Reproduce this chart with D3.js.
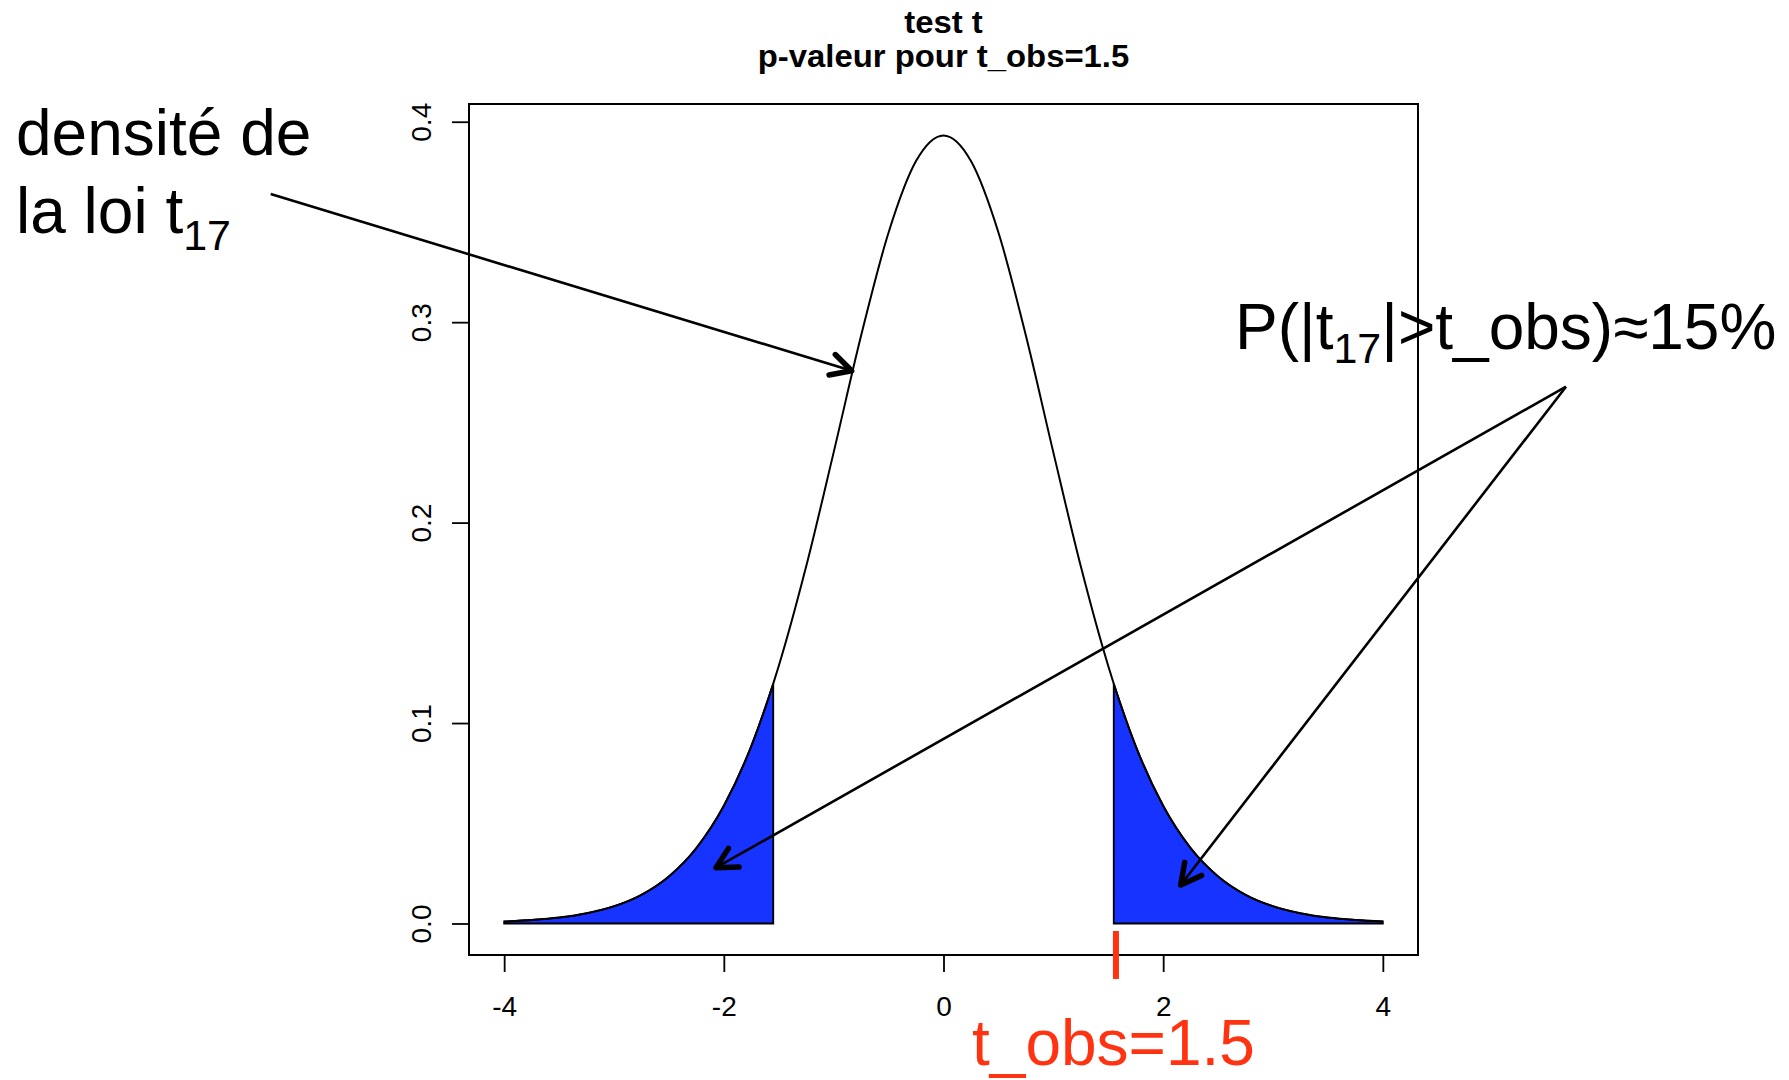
<!DOCTYPE html>
<html>
<head>
<meta charset="utf-8">
<script src="https://cdn.jsdelivr.net/npm/d3@7"></script>
<style>
  html, body { margin: 0; padding: 0; background: #fff; }
  svg { display: block; }
  text { font-family: "Liberation Sans", Arial, Helvetica, sans-serif; }
</style>
</head>
<body>
<svg id="chart" width="1789" height="1080"></svg>
<script>
// ---------------- DATA ----------------
const tValues = [-4, -3.75, -3.5, -3.25, -3, -2.75, -2.5, -2.25, -2, -1.75, -1.55, -1.5, -1.25, -1, -0.75, -0.5, -0.25,
                 0, 0.25, 0.5, 0.75, 1, 1.25, 1.5, 1.55, 1.75, 2, 2.25, 2.5, 2.75, 3, 3.25, 3.5, 3.75, 4];
const densityValues = [0.00100, 0.00173, 0.00297, 0.00508, 0.00859, 0.01433, 0.02349, 0.03764, 0.05870, 0.08853, 0.11964, 0.12844, 0.17818, 0.23503, 0.29329, 0.34472, 0.38035,
                 0.39312, 0.38035, 0.34472, 0.29329, 0.23503, 0.17818, 0.12844, 0.11964, 0.08853, 0.05870, 0.03764, 0.02349, 0.01433, 0.00859, 0.00508, 0.00297, 0.00173, 0.00100];
const tCritical = 1.55;          // edge of the shaded tails
const tObsMark = 1.57;           // red mark under the axis
const xTicks = [-4, -2, 0, 2, 4];
const xTickLabels = ["-4", "-2", "0", "2", "4"];
const yTicks = [0, 0.1, 0.2, 0.3, 0.4];
const yTickLabels = ["0.0", "0.1", "0.2", "0.3", "0.4"];
const titleLines = ["test t", "p-valeur pour t_obs=1.5"];
const xDomain = [-4.32, 4.32];
const yDomain = [-0.015725, 0.408845];

// ---------------- LAYOUT ----------------
const box = { left: 469, right: 1418, top: 104, bottom: 955 };
const svg = d3.select("#chart");

const x = d3.scaleLinear().domain(xDomain).range([box.left, box.right]);
const y = d3.scaleLinear().domain(yDomain).range([box.bottom, box.top]);

const pts = tValues.map((t, i) => ({ t, d: densityValues[i] }));

// shaded tails
const area = d3.area().x(p => x(p.t)).y0(y(0)).y1(p => y(p.d)).curve(d3.curveMonotoneX);
const leftTail = pts.filter(p => p.t <= -tCritical);
const rightTail = pts.filter(p => p.t >= tCritical);
[leftTail, rightTail].forEach(tail => {
  svg.append("path")
    .attr("d", area(tail))
    .attr("fill", "#1733ff")
    .attr("stroke", "#000")
    .attr("stroke-width", 1.8)
    .attr("stroke-linejoin", "miter");
});

// density curve
const line = d3.line().x(p => x(p.t)).y(p => y(p.d)).curve(d3.curveMonotoneX);
svg.append("path")
  .attr("d", line(pts))
  .attr("fill", "none")
  .attr("stroke", "#000")
  .attr("stroke-width", 2);

// box
svg.append("rect")
  .attr("x", box.left).attr("y", box.top)
  .attr("width", box.right - box.left).attr("height", box.bottom - box.top)
  .attr("fill", "none").attr("stroke", "#000").attr("stroke-width", 2);

// x axis
const xAxis = svg.append("g")
  .attr("transform", `translate(0,${box.bottom})`)
  .call(d3.axisBottom(x).tickValues(xTicks).tickFormat((d, i) => xTickLabels[i]).tickSize(17).tickSizeOuter(0));
xAxis.select(".domain").remove();
xAxis.selectAll("line").attr("stroke", "#000").attr("stroke-width", 1.8);
xAxis.selectAll("text")
  .attr("y", 0).attr("dy", 0)
  .attr("font-size", 28)
  .attr("fill", "#000")
  .attr("font-family", "Liberation Sans, Arial, sans-serif")
  .attr("transform", "translate(0,61)");

// y axis
const yAxis = svg.append("g")
  .attr("transform", `translate(${box.left},0)`)
  .call(d3.axisLeft(y).tickValues(yTicks).tickFormat((d, i) => yTickLabels[i]).tickSize(17).tickSizeOuter(0));
yAxis.select(".domain").remove();
yAxis.selectAll("line").attr("stroke", "#000").attr("stroke-width", 1.8);
yAxis.selectAll("text")
  .attr("x", 0).attr("y", 0).attr("dy", 0)
  .attr("text-anchor", "middle")
  .attr("font-size", 28)
  .attr("fill", "#000")
  .attr("font-family", "Liberation Sans, Arial, sans-serif")
  .attr("transform", "translate(-38,0) rotate(-90)");

// title
const cx = (box.left + box.right) / 2;
[33, 67].forEach((by, i) => {
  svg.append("text")
    .attr("transform", `translate(${cx},${by}) scale(1.06,1)`)
    .attr("text-anchor", "middle")
    .attr("font-size", 31)
    .attr("font-weight", "bold")
    .attr("fill", "#000")
    .text(titleLines[i]);
});

// red observed-t mark
svg.append("line")
  .attr("x1", x(tObsMark)).attr("x2", x(tObsMark))
  .attr("y1", 931).attr("y2", 979)
  .attr("stroke", "#ff3311").attr("stroke-width", 6);

// ---------------- ANNOTATIONS ----------------
function arrow(x1, y1, x2, y2) {
  svg.append("line").attr("x1", x1).attr("y1", y1).attr("x2", x2).attr("y2", y2)
    .attr("stroke", "#000").attr("stroke-width", 2.6);
  const ang = Math.atan2(y2 - y1, x2 - x1);
  const L = 23, a = Math.PI / 6.5;
  const p1 = [x2 - L * Math.cos(ang - a), y2 - L * Math.sin(ang - a)];
  const p2 = [x2 - L * Math.cos(ang + a), y2 - L * Math.sin(ang + a)];
  svg.append("path")
    .attr("d", `M${p1[0]},${p1[1]}L${x2},${y2}L${p2[0]},${p2[1]}`)
    .attr("fill", "none").attr("stroke", "#000").attr("stroke-width", 5.5)
    .attr("stroke-linecap", "round").attr("stroke-linejoin", "round");
}
arrow(270.7, 194, 851.7, 370.7);
arrow(1566, 386.7, 716, 867.7);
arrow(1566, 386.7, 1180.7, 885);

const annFont = 64;
svg.append("text").attr("x", 16).attr("y", 155).attr("font-size", annFont).attr("fill", "#000").text("densité de");
const t2 = svg.append("text").attr("x", 16).attr("y", 233).attr("font-size", annFont).attr("fill", "#000");
t2.append("tspan").text("la loi t");
t2.append("tspan").attr("font-size", 43).attr("dy", 17).text("17");

const t3 = svg.append("text").attr("x", 1235).attr("y", 349).attr("font-size", annFont).attr("fill", "#000");
t3.append("tspan").text("P(|t");
t3.append("tspan").attr("font-size", 43).attr("dy", 14).text("17");
t3.append("tspan").attr("dy", -14).text("|>t_obs)≈15%");

svg.append("text").attr("x", 972).attr("y", 1065).attr("font-size", 64).attr("fill", "#ff3311").text("t_obs=1.5");
</script>
</body>
</html>
